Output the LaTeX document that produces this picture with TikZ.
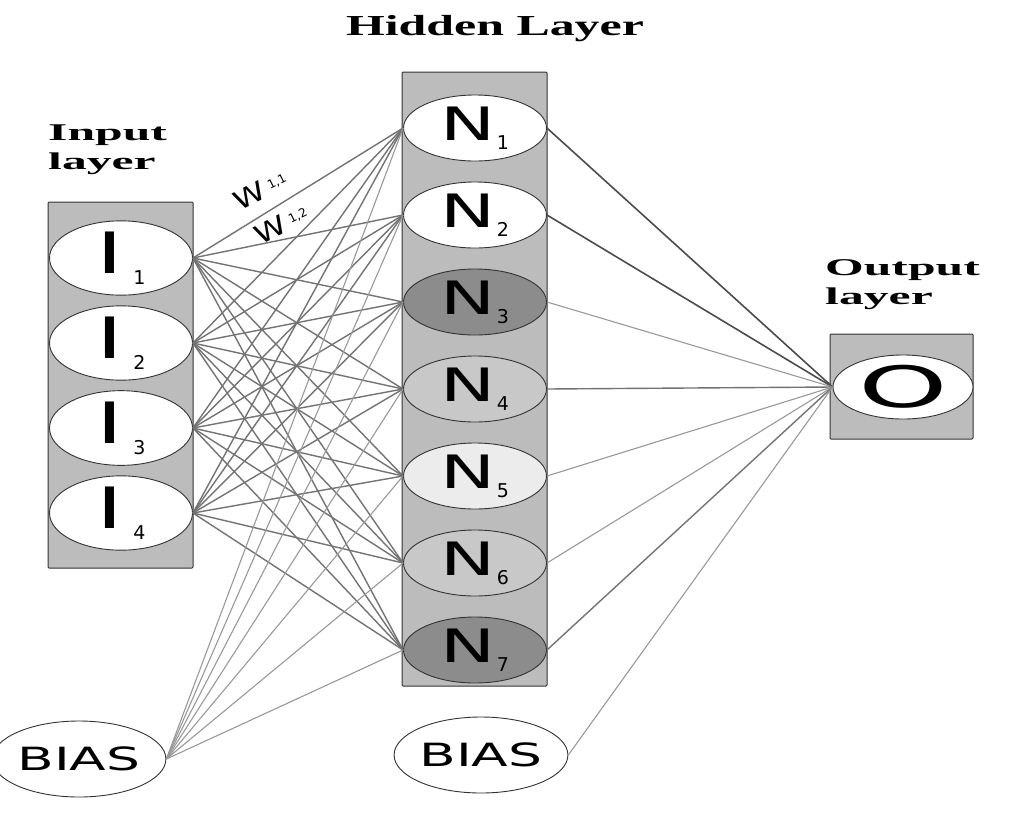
\documentclass[tikz,border=0pt]{standalone}
\usepackage{fontspec}
\setmainfont{Liberation Serif}
\newfontfamily\dv{DejaVu Sans}
\usetikzlibrary{shapes.geometric}
\definecolor{boxgray}{RGB}{188,188,188}
\definecolor{darkn}{RGB}{140,140,140}
\definecolor{midn}{RGB}{200,200,200}
\definecolor{lightn}{RGB}{236,236,236}
\newcommand{\nlab}[2]{{\dv\scalebox{1.6}[1]{\fontsize{46}{46}\selectfont #1}\hspace{1pt}\raisebox{-9pt}{\fontsize{19}{19}\selectfont #2}}}
\newcommand{\ilab}[2]{{\dv\scalebox{1.6}[1]{\fontsize{57}{57}\selectfont #1}\hspace{10pt}\raisebox{-11pt}{\fontsize{19}{19}\selectfont #2}}}
\newcommand{\wlab}[1]{{\dv\scalebox{1.25}[1]{\fontsize{26}{26}\selectfont W}\hspace{5pt}\raisebox{5pt}{\fontsize{12}{12}\selectfont #1}}}
\begin{document}
\begin{tikzpicture}[x=1pt,y=-1pt,
  neuron/.style={ellipse,draw=black!80,line width=0.9pt,minimum width=143pt,minimum height=66pt,inner sep=0pt,fill=white},
  layerbox/.style={draw=black!80,fill=boxgray,line width=1pt,rounded corners=1pt},
  conn/.style={draw=black!55,line width=1.4pt},
  dconn/.style={draw=black!70,line width=1.6pt},
  lconn/.style={draw=black!40,line width=1.1pt},
  title/.style={font=\fontsize{24}{29}\selectfont\bfseries,align=left,inner sep=0pt},
]
\useasboundingbox[fill=white] (0,0) rectangle (1018,823);

% titles
\node[title,anchor=south] (thid) at (495,42) {\scalebox{1.72}[1]{\fontsize{29}{32}\selectfont Hidden Layer}};
\node[title,anchor=north west] (tin) at (48,125) {\scalebox{2.07}[1]{Input}\\\scalebox{2.07}[1]{layer}};
\node[title,anchor=north west] (tout) at (825,259) {\scalebox{2.07}[1]{Output}\\\scalebox{2.07}[1]{layer}};

% layer boxes
\draw[layerbox] (48,202) rectangle (193,568);
\draw[layerbox] (402,72) rectangle (547,686);
\draw[layerbox] (830,334) rectangle (973,439);

% input neurons
\foreach \k in {1,...,4}{
  \node[neuron] (I\k) at (121,{258+85*(\k-1)}) {\ilab{I}{\k}};
}
% hidden neurons
\node[neuron,fill=white]  (N1) at (475,128) {\nlab{N}{1}};
\node[neuron,fill=white]  (N2) at (475,215) {\nlab{N}{2}};
\node[neuron,fill=darkn]  (N3) at (475,302) {\nlab{N}{3}};
\node[neuron,fill=midn]   (N4) at (475,389) {\nlab{N}{4}};
\node[neuron,fill=lightn] (N5) at (475,476) {\nlab{N}{5}};
\node[neuron,fill=midn]   (N6) at (475,563) {\nlab{N}{6}};
\node[neuron,fill=darkn]  (N7) at (475,650) {\nlab{N}{7}};
% output
\node[neuron,minimum width=140pt,minimum height=64pt] (O) at (903,387)
  {{\dv\scalebox{2}[1]{\fontsize{57}{57}\selectfont O}}};
% bias
\node[neuron,minimum width=142pt,minimum height=76pt] (B1) at (79,759)
  {{\dv\scalebox{1.67}[1]{\fontsize{32}{32}\selectfont BIAS}}};
\node[neuron,minimum width=144pt,minimum height=76pt] (B2) at (481,755)
  {{\dv\scalebox{1.67}[1]{\fontsize{32}{32}\selectfont BIAS}}};

% input -> hidden
\foreach \i in {1,...,4}{
  \foreach \h in {1,...,7}{
    \draw[conn] (I\i.east) -- (N\h.west);
  }
}
% bias -> hidden
\foreach \h in {1,...,7}{
  \draw[lconn] (B1.east) -- (N\h.west);
}
% hidden -> output
\draw[dconn] (N1.east) -- (O.west);
\draw[dconn] (N2.east) -- (O.west);
\draw[lconn] (N3.east) -- (O.west);
\draw[conn]  (N4.east) -- (O.west);
\draw[lconn] (N5.east) -- (O.west);
\draw[lconn] (N6.east) -- (O.west);
\draw[conn]  (N7.east) -- (O.west);
\draw[lconn] (B2.east) -- (O.west);

% weight labels
\node[rotate=27,inner sep=0pt] (w11) at (260,190) {\wlab{1,1}};
\node[rotate=27,inner sep=0pt] (w12) at (281,224) {\wlab{1,2}};
\end{tikzpicture}
\end{document}
